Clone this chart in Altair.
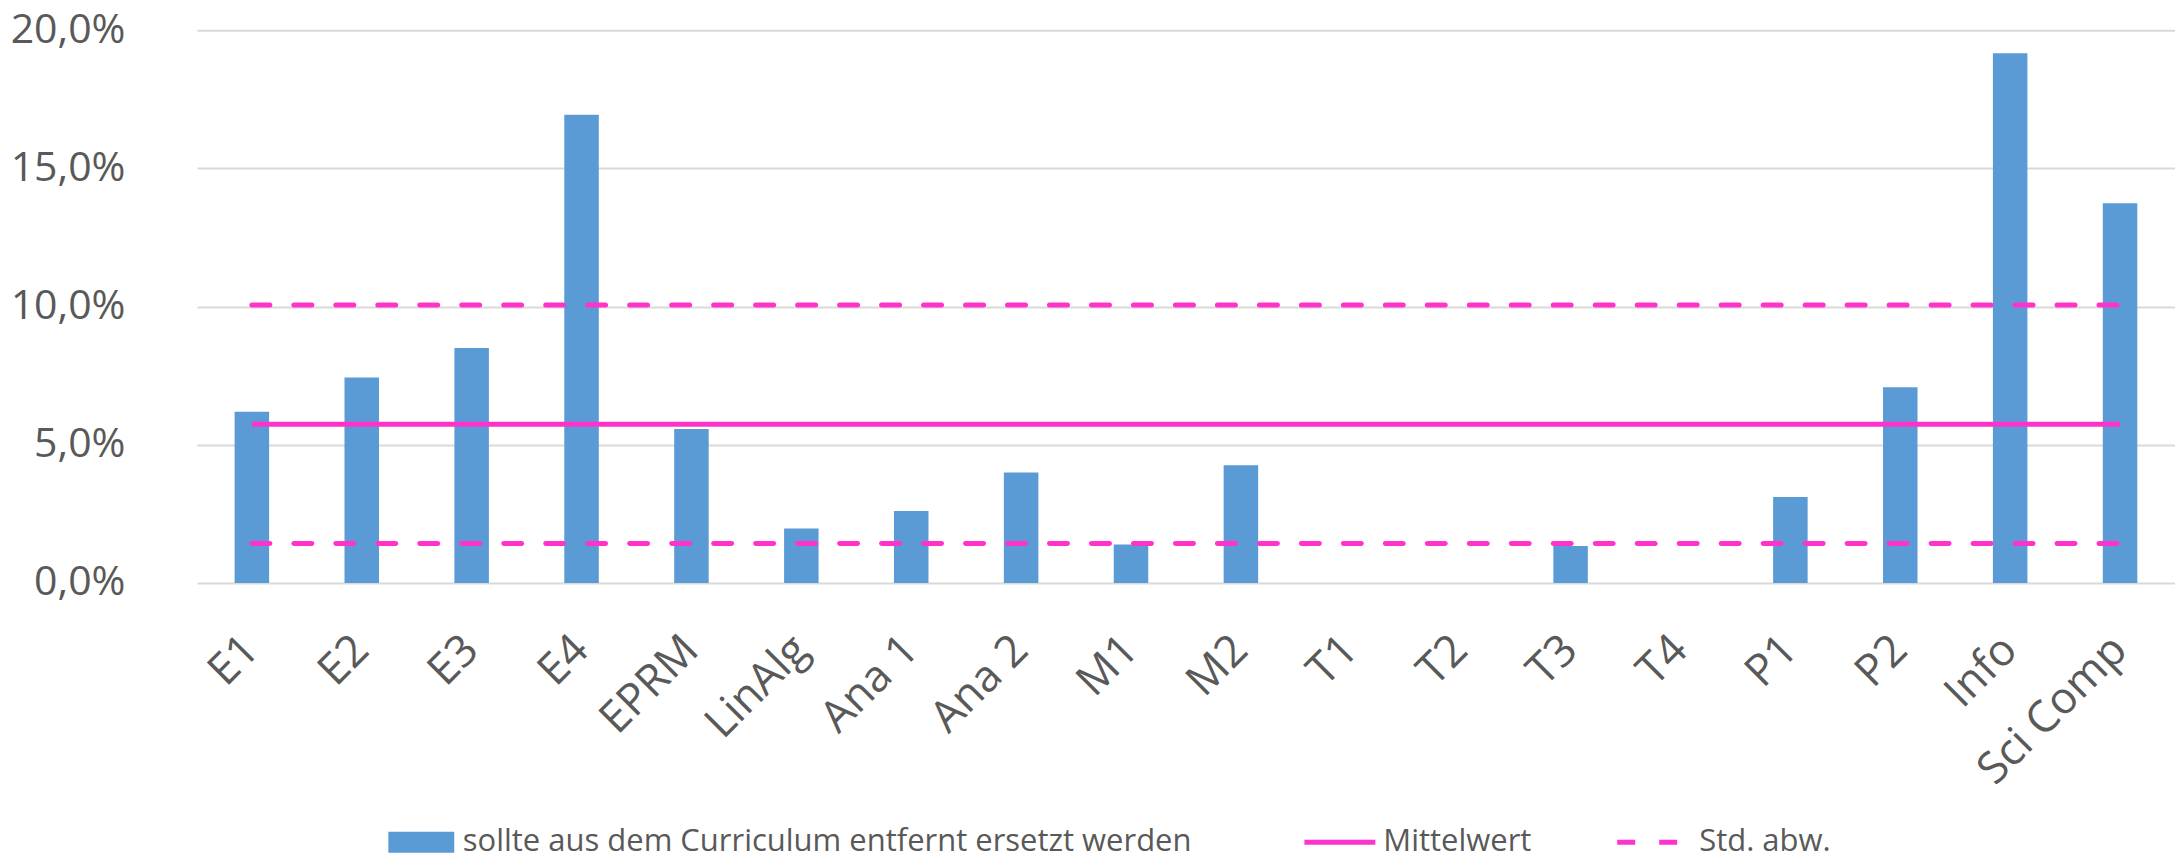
import altair as alt
import pandas as pd

CATEGORIES = ["E1", "E2", "E3", "E4", "EPRM", "LinAlg", "Ana 1", "Ana 2", "M1", "M2",
              "T1", "T2", "T3", "T4", "P1", "P2", "Info", "Sci Comp"]
VALUES = [6.19, 7.43, 8.50, 16.94, 5.57, 1.97, 2.60, 4.00, 1.39, 4.26,
          0.0, 0.0, 1.34, 0.0, 3.11, 7.08, 19.17, 13.74]
MEAN = 5.74
STD_UPPER = 10.06
STD_LOWER = 1.43
Y_TICKS = [0, 5, 10, 15, 20]

BAR_NAME = "sollte aus dem Curriculum entfernt ersetzt werden"
MEAN_NAME = "Mittelwert"
STD_NAME = "Std. abw."

BLUE = "#5B9BD5"
MAGENTA = "#FF33CC"
TEXT = "#595959"
GRID = "#D9D9D9"
FONT = "Open Sans"

bar_df = pd.DataFrame({"cat": CATEGORIES, "value": VALUES, "series": BAR_NAME})
mean_df = pd.DataFrame({"cat": CATEGORIES, "value": [MEAN] * len(CATEGORIES), "series": MEAN_NAME})
std_df = pd.concat([
    pd.DataFrame({"cat": CATEGORIES, "value": [STD_UPPER] * len(CATEGORIES), "band": "upper", "series": STD_NAME}),
    pd.DataFrame({"cat": CATEGORIES, "value": [STD_LOWER] * len(CATEGORIES), "band": "lower", "series": STD_NAME}),
])

x_enc = alt.X(
    "cat:N", sort=CATEGORIES, title=None,
    scale=alt.Scale(paddingInner=0.686, paddingOuter=0.343),
    axis=alt.Axis(labelAngle=-45, labelAlign="right", labelBaseline="middle",
                  labelFontSize=44, labelFont=FONT, labelColor=TEXT, labelLimit=500,
                  labelPadding=60, ticks=False, domain=False, grid=False),
)
y_enc = alt.Y(
    "value:Q", title=None,
    scale=alt.Scale(domain=[0, 20], nice=False),
    axis=alt.Axis(values=Y_TICKS, labelExpr="replace(format(datum.value, '.1f'), '.', ',') + '%'",
                  labelFontSize=41, labelFont=FONT, labelColor=TEXT, labelPadding=72,
                  ticks=False, domain=False, grid=True, gridColor=GRID, gridWidth=2),
)

common_legend = dict(orient="none", title=None, labelFontSize=31, labelFont=FONT,
                     labelColor=TEXT, labelLimit=1000, padding=0, symbolSize=441)
LEG_Y = 797

bars = alt.Chart(bar_df).mark_bar().encode(
    x=x_enc, y=y_enc,
    fill=alt.Fill("series:N", scale=alt.Scale(domain=[BAR_NAME], range=[BLUE]),
                  legend=alt.Legend(symbolType="M-3.14,-1H3.14V1H-3.14Z",
                                    symbolStrokeWidth=0, labelOffset=26,
                                    legendX=209, legendY=LEG_Y, **common_legend)),
)

mean_line = alt.Chart(mean_df).mark_line(strokeWidth=5).encode(
    x=alt.X("cat:N", sort=CATEGORIES), y="value:Q",
    stroke=alt.Stroke("series:N", scale=alt.Scale(domain=[MEAN_NAME], range=[MAGENTA]),
                      legend=alt.Legend(symbolType="M-3.38,0H3.38", symbolStrokeWidth=5,
                                        labelOffset=28, legendX=1128, legendY=LEG_Y,
                                        **common_legend)),
)

std_line = alt.Chart(std_df).mark_line(strokeWidth=5, color=MAGENTA, strokeCap="round").encode(
    x=alt.X("cat:N", sort=CATEGORIES), y="value:Q", detail="band:N",
    strokeDash=alt.StrokeDash("series:N", scale=alt.Scale(domain=[STD_NAME], range=[[18, 24]]),
                              legend=alt.Legend(symbolType="M-3.1,0H3.1", symbolStrokeWidth=5,
                                                symbolStrokeColor=MAGENTA, labelOffset=34,
                                                legendX=1438, legendY=LEG_Y,
                                                **common_legend)),
)

chart = alt.layer(bars, mean_line, std_line).properties(
    width=1979, height=553,
    autosize=alt.AutoSizeParams(type="none"),
    padding={"left": 189, "top": 22, "right": 0, "bottom": 277},
    background="white",
).configure_view(strokeWidth=0)

chart.save("out.html", embed_options={"renderer": "svg", "actions": False})
